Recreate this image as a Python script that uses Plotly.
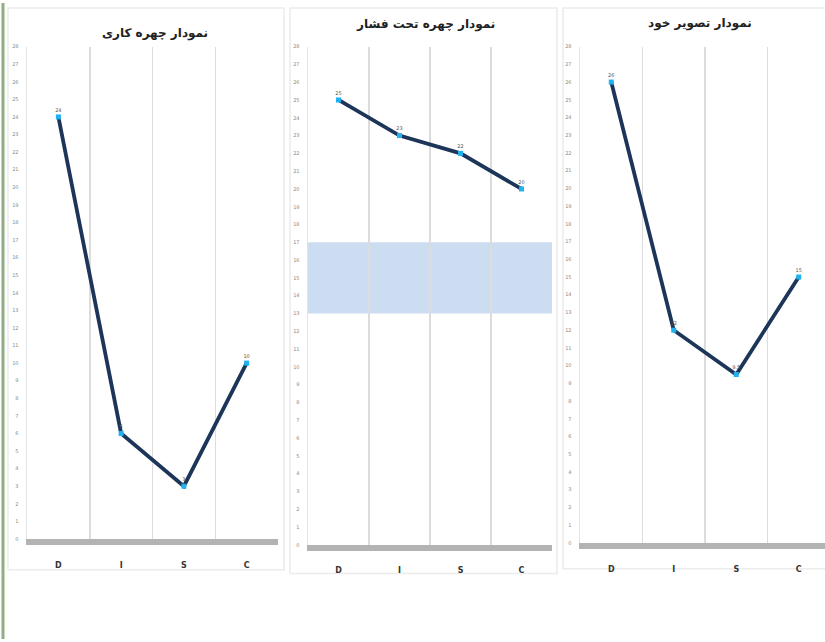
import plotly.graph_objects as go

categories = ["D", "I", "S", "C"]
titles = ["نمودار چهره کاری", "نمودار چهره تحت فشار", "نمودار تصویر خود"]
work_face = [24, 6, 3, 10]
pressure_face = [25, 23, 22, 20]
self_image = [26, 12, 9.5, 15]
band_range = [13, 17]
y_ticks = list(range(0, 29))

W, H = 825, 642
def px(x):
    return x / W
def py(y):
    return 1 - y / H

panels = [
    dict(vals=work_face, xd=[27, 278], yd=[44, 541], xr=[-0.5, 3.5], title_xy=(155, 31), card=(8, 5, 284, 572)),
    dict(vals=pressure_face, xd=[308, 552], yd=[44, 547], xr=[-0.5, 3.5], title_xy=(425, 22), card=(290, 5, 557, 576)),
    dict(vals=self_image, xd=[580, 825], yd=[44, 545], xr=[-0.5, 3.42], title_xy=(700, 21), card=(563, 5, 830, 571)),
]

fig = go.Figure()
shapes = []
annotations = []
line_color = "#1c3559"
marker_color = "#1fb2f0"

for i, p in enumerate(panels):
    n = "" if i == 0 else str(i + 1)
    fig.add_trace(go.Scatter(
        x=categories, y=p["vals"], mode="lines+markers+text",
        text=[str(v) for v in p["vals"]], textposition="top center",
        textfont=dict(size=5, color="#555555", family="DejaVu Sans"),
        line=dict(color=line_color, width=3.8),
        marker=dict(color=marker_color, size=5, symbol="square"),
        xaxis="x" + n, yaxis="y" + n, showlegend=False, cliponaxis=False,
        hoverinfo="skip",
    ))
    fig.layout["xaxis" + n] = dict(
        domain=[px(p["xd"][0]), px(p["xd"][1])], anchor="y" + n,
        type="category", range=p["xr"], tickson="boundaries",
        showgrid=True, gridcolor="#dcdcdc", gridwidth=1.5,
        ticks="", showline=True, linecolor="#b3b3b3", linewidth=6,
        tickfont=dict(size=8, color="#333333", family="DejaVu Sans"),
        tickprefix="<b>", ticksuffix="</b>",
        ticklabelstandoff=13, zeroline=False, fixedrange=True,
    )
    fig.layout["yaxis" + n] = dict(
        domain=[py(p["yd"][1]), py(p["yd"][0])], anchor="x" + n,
        range=[0, 28], tickvals=y_ticks, showgrid=False, zeroline=False,
        showline=True, linecolor="#e3e3e3", linewidth=1.5,
        tickfont=dict(size=5, color="#8a8a8a", family="DejaVu Sans"),
        ticks="", ticklabelstandoff=6, fixedrange=True,
    )
    cx0, cy0, cx1, cy1 = p["card"]
    shapes.append(dict(type="rect", xref="paper", yref="paper",
                       x0=px(cx0), x1=px(cx1), y0=py(cy1), y1=py(cy0),
                       line=dict(color="#ececec", width=1.5), fillcolor="rgba(0,0,0,0)", layer="below"))
    tx, ty = p["title_xy"]
    annotations.append(dict(text="<b>" + titles[i] + "</b>", x=px(tx), y=py(ty), xref="paper", yref="paper",
                            xanchor="center", yanchor="middle",
                            showarrow=False, font=dict(size=12, color="#222222", family="DejaVu Sans")))

# reference band in the pressure panel
shapes.append(dict(type="rect", xref="x2 domain", yref="y2", x0=0, x1=1,
                   y0=band_range[0], y1=band_range[1],
                   fillcolor="rgba(170,198,234,0.6)", line=dict(width=0), layer="below"))
# left green edge line
shapes.append(dict(type="line", xref="paper", yref="paper", x0=px(3), x1=px(3), y0=0, y1=1,
                   line=dict(color="#8fae84", width=3)))

fig.update_layout(
    width=W, height=H, margin=dict(l=0, r=0, t=0, b=0),
    paper_bgcolor="white", plot_bgcolor="white",
    shapes=shapes, annotations=annotations, hovermode=False,
)

fig.write_html("out.html", config={"displayModeBar": False, "staticPlot": True},
               post_script="document.body.style.margin='0';document.body.style.overflow='hidden';")
